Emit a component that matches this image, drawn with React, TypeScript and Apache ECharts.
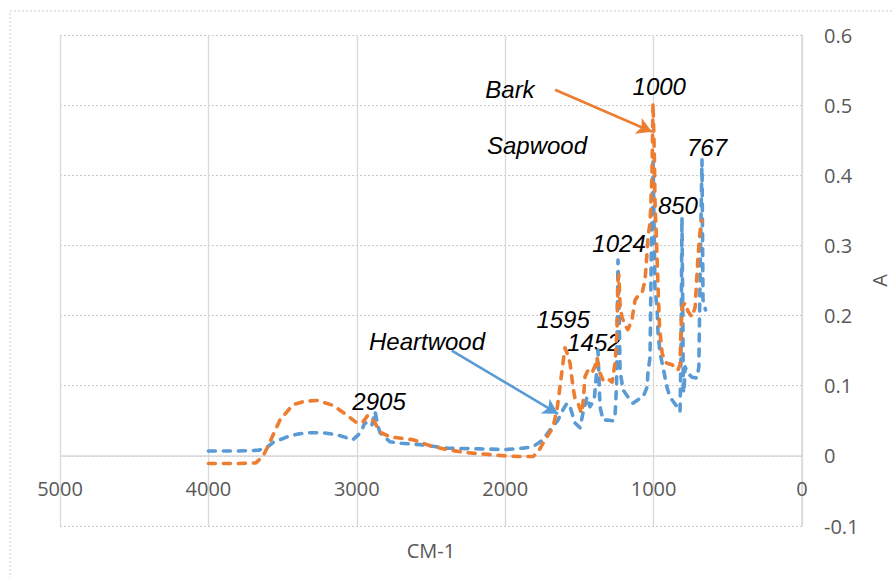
import { useEffect, useRef } from "react";
import * as echarts from "echarts";

// FTIR absorbance spectra: [wavenumber (cm-1), absorbance]
const barkSpectrum: [number, number][] = [
  [4000, -0.011], [3800, -0.011], [3680, -0.01], [3630, 0.0], [3585, 0.02],
  [3518, 0.051], [3430, 0.073], [3350, 0.078], [3268, 0.079], [3160, 0.072],
  [3066, 0.058], [3000, 0.047], [2960, 0.048], [2925, 0.058], [2880, 0.048],
  [2844, 0.034], [2776, 0.027], [2700, 0.025], [2621, 0.023], [2500, 0.014],
  [2392, 0.009], [2280, 0.005], [2170, 0.003], [2000, 0.0], [1900, -0.001],
  [1813, -0.001], [1780, 0.005], [1745, 0.018], [1700, 0.033], [1678, 0.041],
  [1651, 0.066], [1631, 0.098], [1617, 0.122], [1597, 0.154], [1580, 0.145],
  [1563, 0.132], [1543, 0.098], [1530, 0.082], [1509, 0.075], [1490, 0.063],
  [1482, 0.061], [1470, 0.09], [1462, 0.113], [1442, 0.122], [1415, 0.118],
  [1395, 0.128], [1381, 0.14], [1370, 0.125], [1361, 0.118], [1341, 0.108],
  [1314, 0.111], [1280, 0.105], [1260, 0.132], [1247, 0.175], [1240, 0.25],
  [1234, 0.258], [1226, 0.215], [1213, 0.198], [1190, 0.185], [1173, 0.18],
  [1146, 0.194], [1125, 0.222], [1105, 0.228], [1092, 0.229], [1078, 0.232],
  [1058, 0.25], [1044, 0.29], [1038, 0.312], [1024, 0.332], [1011, 0.4],
  [1004, 0.503], [995, 0.43], [991, 0.365], [980, 0.303], [970, 0.241],
  [960, 0.184], [943, 0.147], [925, 0.135], [910, 0.132], [876, 0.13],
  [836, 0.122], [822, 0.13], [815, 0.18], [809, 0.212], [788, 0.218],
  [768, 0.206], [741, 0.198], [720, 0.212], [701, 0.283], [687, 0.32],
  [676, 0.336],
];

const heartwoodSpectrum: [number, number][] = [
  [4000, 0.007], [3800, 0.007], [3660, 0.008], [3600, 0.013], [3565, 0.019],
  [3470, 0.027], [3400, 0.031], [3336, 0.033], [3228, 0.033], [3133, 0.03],
  [3026, 0.023], [2990, 0.03], [2965, 0.037], [2945, 0.048], [2915, 0.042],
  [2898, 0.044], [2877, 0.063], [2860, 0.045], [2844, 0.033], [2776, 0.02],
  [2700, 0.018], [2574, 0.016], [2392, 0.011], [2170, 0.01], [2000, 0.009],
  [1880, 0.011], [1813, 0.013], [1745, 0.023], [1698, 0.037], [1644, 0.051],
  [1610, 0.066], [1584, 0.075], [1563, 0.07], [1530, 0.047], [1496, 0.04],
  [1476, 0.061], [1449, 0.084], [1429, 0.07], [1400, 0.08], [1381, 0.127],
  [1375, 0.151], [1368, 0.11], [1361, 0.07], [1341, 0.051], [1314, 0.051],
  [1274, 0.05], [1260, 0.056], [1250, 0.1], [1240, 0.279], [1232, 0.2],
  [1226, 0.122], [1206, 0.094], [1173, 0.084], [1139, 0.075], [1105, 0.08],
  [1071, 0.084], [1044, 0.098], [1038, 0.118], [1024, 0.141], [1015, 0.3],
  [1004, 0.424], [995, 0.3], [991, 0.241], [977, 0.212], [970, 0.175],
  [957, 0.147], [937, 0.127], [910, 0.098], [890, 0.084], [842, 0.07],
  [822, 0.063], [815, 0.15], [809, 0.34], [803, 0.2], [800, 0.094],
  [795, 0.09], [788, 0.127], [768, 0.118], [741, 0.112], [708, 0.111],
  [695, 0.127], [687, 0.25], [674, 0.422], [667, 0.222], [650, 0.208],
];

// Text annotations placed in data space: [text, wavenumber, absorbance]
const annotations: [string, number, number][] = [
  ["Bark", 1968, 0.522],
  ["Sapwood", 1786, 0.443],
  ["1000", 962, 0.526],
  ["767", 640, 0.44],
  ["850", 836, 0.357],
  ["1024", 1233, 0.303],
  ["1595", 1610, 0.194],
  ["1452", 1402, 0.162],
  ["Heartwood", 2527, 0.163],
  ["2905", 2850, 0.078],
];

// Pointer arrows: [from wavenumber, from absorbance, to wavenumber, to absorbance]
const barkArrow: [number, number, number, number] = [1664, 0.522, 1011, 0.462];
const heartwoodArrow: [number, number, number, number] = [2360, 0.15, 1644, 0.06];

const ORANGE = "#ED7D31";
const BLUE = "#5B9BD5";
const AXIS_FONT = "'Open Sans', 'Noto Sans', sans-serif";
const NOTE_FONT = "'Liberation Sans', Arial, sans-serif";

function arrowMarkLine(a: [number, number, number, number], color: string) {
  return {
    silent: true,
    symbol: ["none", "arrow"],
    symbolSize: [13, 15],
    label: { show: false },
    lineStyle: { type: "solid", width: 2.6, color },
    data: [[{ coord: [a[0], a[1]] }, { coord: [a[2], a[3]] }]],
  };
}

export default function App() {
  const ref = useRef<HTMLDivElement>(null);

  useEffect(() => {
    if (!ref.current) return;
    const chart = echarts.init(ref.current, null, { renderer: "svg" });

    const lineStyle = (color: string) => ({
      color,
      width: 3.6,
      type: [7, 8] as number[],
      cap: "round" as const,
      join: "round" as const,
    });

    chart.setOption({
      animation: false,
      backgroundColor: "#ffffff",
      grid: { left: 60, right: 91, top: 35, bottom: 52, outerBoundsMode: "none", containLabel: false },
      xAxis: {
        type: "value",
        min: 0,
        max: 5000,
        interval: 1000,
        inverse: true,
        name: "CM-1",
        nameLocation: "middle",
        nameGap: 14,
        nameTextStyle: { color: "#595959", fontSize: 20, fontFamily: AXIS_FONT },
        // the axis sits at the grid's bottom; its labels are lifted up under the zero line
        axisLine: { show: false, onZero: false },
        axisTick: { show: false },
        axisLabel: {
          color: "#595959",
          fontSize: 20,
          fontFamily: AXIS_FONT,
          margin: -48,
          formatter: (v: number) => String(v),
        },
        splitLine: { show: true, lineStyle: { color: "#d9d9d9", width: 1.3, type: "solid" } },
      },
      yAxis: {
        type: "value",
        position: "right",
        min: -0.1,
        max: 0.6,
        interval: 0.1,
        name: "A",
        nameLocation: "middle",
        nameGap: 66,
        nameRotate: 90,
        nameTextStyle: { color: "#595959", fontSize: 20, fontFamily: AXIS_FONT },
        axisLine: { show: true, lineStyle: { color: "#d9d9d9", width: 1.5 } },
        axisTick: { show: false },
        axisLabel: {
          color: "#595959",
          fontSize: 20,
          fontFamily: AXIS_FONT,
          margin: 22,
          formatter: (v: number) => String(Math.round(v * 10) / 10),
        },
        splitLine: { show: true, lineStyle: { color: "#c8c8c8", width: 1.2, type: [2, 2] } },
      },
      series: [
        {
          name: "Heartwood",
          type: "line",
          data: heartwoodSpectrum,
          showSymbol: false,
          lineStyle: lineStyle(BLUE),
          itemStyle: { color: BLUE },
          markLine: {
            silent: true,
            symbol: ["none", "none"],
            label: { show: false },
            lineStyle: { type: "solid", width: 1.5, color: "#d9d9d9" },
            data: [{ yAxis: 0 }],
            z: 1,
          },
        },
        {
          name: "Heartwood pointer",
          type: "line",
          data: [],
          markLine: arrowMarkLine(heartwoodArrow, BLUE),
        },
        {
          name: "Bark",
          type: "line",
          data: barkSpectrum,
          showSymbol: false,
          lineStyle: lineStyle(ORANGE),
          itemStyle: { color: ORANGE },
          markLine: arrowMarkLine(barkArrow, ORANGE),
        },
      ],
    });

    const texts = annotations.map(([text, wn, a]) => {
      const [px, py] = chart.convertToPixel({ gridIndex: 0 }, [wn, a]) as number[];
      return {
        type: "text",
        x: px,
        y: py,
        silent: true,
        style: {
          text,
          fill: "#000000",
          font: `italic 24px ${NOTE_FONT}`,
          textAlign: "center",
          textVerticalAlign: "middle",
        },
      };
    });

    chart.setOption({
      graphic: [
        {
          type: "rect",
          silent: true,
          shape: { x: 10, y: 11, width: 900, height: 600 },
          style: { fill: "none", stroke: "#d0d0d0", lineWidth: 1, lineDash: [2, 2] },
        },
        ...texts,
      ],
    });

    return () => chart.dispose();
  }, []);

  return (
    <div
      ref={ref}
      style={{ position: "fixed", left: 0, top: 0, width: 893, height: 578 }}
    />
  );
}
